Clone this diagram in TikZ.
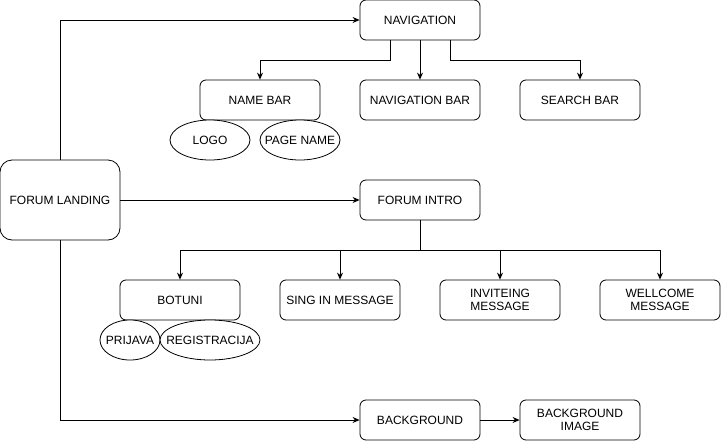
\documentclass[tikz,border=0pt]{standalone}
\usepackage{fontspec}
\setmainfont{Liberation Sans}
\usetikzlibrary{arrows.meta,shapes.geometric}

\begin{document}
\begin{tikzpicture}[x=1pt,y=-1pt,
    font=\fontsize{12}{13}\selectfont,
    box/.style={draw,rectangle,rounded corners=6pt,line width=0.8pt,fill=white,
      minimum width=120pt,minimum height=40pt,inner sep=0pt,align=center},
    oval/.style={draw,ellipse,line width=0.8pt,fill=white,
      minimum height=40pt,inner sep=0pt,label={[inner sep=0pt]center:#1}}, 
    arr/.style={line width=0.8pt,-{Stealth[length=7pt,width=6pt]}}]
  \useasboundingbox (0,0) rectangle (721,442);
  % main pieces
  \node[box,minimum height=80pt,rounded corners=12pt] (landing) at (60,200) {FORUM LANDING};
  \node[box] (nav) at (420,20) {NAVIGATION};
  \node[box] (intro) at (420,200) {FORUM INTRO};
  \node[box] (backgr) at (420,420) {BACKGROUND};
  \node[box] (bgimage) at (580,420) {BACKGROUND\\IMAGE};
  % navigation parts
  \node[box] (namebar) at (260,100) {NAME BAR};
  \node[box] (navbar) at (420,100) {NAVIGATION BAR};
  \node[box] (searchbar) at (580,100) {SEARCH BAR};
  \node[oval=LOGO,minimum width=80pt] (logo) at (210,140) {};
  \node[oval=PAGE NAME,minimum width=80pt] (pagename) at (300,140) {};
  % intro parts
  \node[box] (botuni) at (180,300) {BOTUNI};
  \node[box] (signin) at (340,300) {SING IN MESSAGE};
  \node[box] (invite) at (500,300) {INVITEING\\MESSAGE};
  \node[box] (welcome) at (660,300) {WELLCOME\\MESSAGE};
  \node[oval=PRIJAVA,minimum width=60pt] (prijava) at (130,340) {};
  \node[oval=REGISTRACIJA,minimum width=100pt] (registr) at (210,340) {};
  % connectors
  \draw[arr] (landing.north) |- (nav.west);
  \draw[arr] (landing.east) -- (intro.west);
  \draw[arr] (landing.south) |- (backgr.west);
  \draw[arr] (backgr.east) -- (bgimage.west);
  \draw[arr] ([xshift=-30pt]nav.south) -- ++(0,20) -| (namebar.north);
  \draw[arr] (nav.south) -- (navbar.north);
  \draw[arr] ([xshift=30pt]nav.south) -- ++(0,20) -| (searchbar.north);
  \foreach \t in {botuni,signin,invite,welcome}
    \draw[arr] (intro.south) -- ++(0,30) -| (\t.north);
\end{tikzpicture}
\end{document}
